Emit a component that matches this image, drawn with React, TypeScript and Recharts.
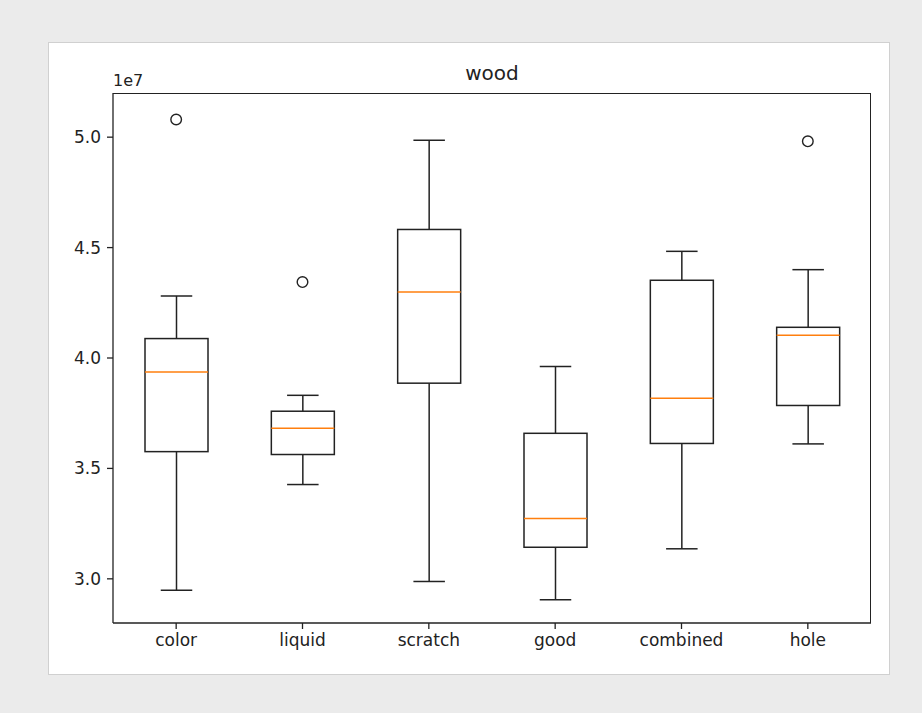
import React from 'react';
import { ComposedChart, Bar, Scatter, XAxis, YAxis } from 'recharts';

// values are in units of 1e7
const categories = ['color', 'liquid', 'scratch', 'good', 'combined', 'hole'];
const whiskerLow = [2.948, 3.427, 2.988, 2.905, 3.136, 3.611];
const q1 = [3.576, 3.563, 3.886, 3.143, 3.613, 3.785];
const medians = [3.937, 3.682, 4.299, 3.273, 3.818, 4.103];
const q3 = [4.088, 3.759, 4.582, 3.659, 4.352, 4.139];
const whiskerHigh = [4.281, 3.831, 4.986, 3.962, 4.483, 4.4];
const outliers: Array<number | null> = [5.08, 4.344, null, null, null, 4.981];
const yTicks = [3.0, 3.5, 4.0, 4.5, 5.0];

const data = categories.map((name, i) => ({
  name,
  whiskerLow: whiskerLow[i],
  q1: q1[i],
  median: medians[i],
  q3: q3[i],
  whiskerHigh: whiskerHigh[i],
  outlier: outliers[i],
}));

const INK = '#222';
const FONT = '"DejaVu Sans", sans-serif';

const BoxShape = (props: any) => {
  const { x, y, width, height, payload } = props;
  const top = Math.min(y, y + height);
  const h = Math.abs(height);
  const hi = payload.whiskerHigh;
  const lo = payload.whiskerLow;
  const py = (v: number) => top + ((hi - v) / (hi - lo)) * h;
  const cx = x + width / 2;
  const cap = width / 4;
  const yQ3 = py(payload.q3);
  const yQ1 = py(payload.q1);
  const yMed = py(payload.median);
  return (
    <g>
      <line x1={cx} x2={cx} y1={top} y2={yQ3} stroke={INK} strokeWidth={1.5} />
      <line x1={cx} x2={cx} y1={yQ1} y2={top + h} stroke={INK} strokeWidth={1.5} />
      <line x1={cx - cap} x2={cx + cap} y1={top} y2={top} stroke={INK} strokeWidth={1.5} />
      <line x1={cx - cap} x2={cx + cap} y1={top + h} y2={top + h} stroke={INK} strokeWidth={1.5} />
      <rect x={x} y={yQ3} width={width} height={yQ1 - yQ3} fill="none" stroke={INK} strokeWidth={1.5} />
      <line x1={x} x2={x + width} y1={yMed} y2={yMed} stroke="#ff7f0e" strokeWidth={1.5} />
    </g>
  );
};

const OutlierShape = (props: any) => {
  const { cx, cy, payload } = props;
  if (payload == null || payload.outlier == null || !isFinite(cy)) return <g />;
  return <circle cx={cx} cy={cy} r={5.3} fill="none" stroke={INK} strokeWidth={1.4} />;
};

export default function App() {
  return (
    <div style={{ position: 'absolute', left: 0, top: 0, width: 922, height: 713, background: '#ebebeb' }}>
      <div
        style={{
          position: 'absolute',
          left: 48,
          top: 42,
          width: 840,
          height: 631,
          background: '#fff',
          border: '1px solid #d0d0d0',
        }}
      >
        <div
          style={{
            position: 'absolute',
            left: 0,
            width: 840 - 18 + 64,
            top: 18,
            textAlign: 'center',
            fontFamily: FONT,
            fontSize: 20,
            color: INK,
          }}
        >
          wood
        </div>
        <div
          style={{
            position: 'absolute',
            left: 64,
            top: 28,
            fontFamily: FONT,
            fontSize: 16,
            color: INK,
          }}
        >
          1e7
        </div>
        <ComposedChart
          width={840}
          height={631}
          data={data}
          margin={{ top: 50, right: 18, left: 0, bottom: 21 }}
        >
          <XAxis
            dataKey="name"
            height={30}
            tickSize={6}
            tickMargin={5}
            axisLine={{ stroke: INK, strokeWidth: 1.3 }}
            tickLine={{ stroke: INK, strokeWidth: 1.3 }}
            tick={{ fill: INK, fontSize: 17, fontFamily: FONT }}
          />
          <YAxis
            width={64}
            type="number"
            domain={[2.8, 5.2]}
            ticks={yTicks}
            tickFormatter={(v: number) => v.toFixed(1)}
            tickSize={6}
            tickMargin={6}
            axisLine={{ stroke: INK, strokeWidth: 1.3 }}
            tickLine={{ stroke: INK, strokeWidth: 1.3 }}
            tick={{ fill: INK, fontSize: 17, fontFamily: FONT }}
            allowDataOverflow
          />
          <Bar
            dataKey={(d: any) => [d.whiskerLow, d.whiskerHigh]}
            barSize={63}
            shape={<BoxShape />}
            isAnimationActive={false}
          />
          <Scatter dataKey="outlier" shape={<OutlierShape />} isAnimationActive={false} />
        </ComposedChart>
        {/* top and right spines */}
        <div
          style={{
            position: 'absolute',
            left: 64,
            top: 50,
            width: 758,
            height: 530,
            boxSizing: 'border-box',
            borderTop: `1.3px solid ${INK}`,
            borderRight: `1.3px solid ${INK}`,
            pointerEvents: 'none',
          }}
        />
      </div>
    </div>
  );
}
